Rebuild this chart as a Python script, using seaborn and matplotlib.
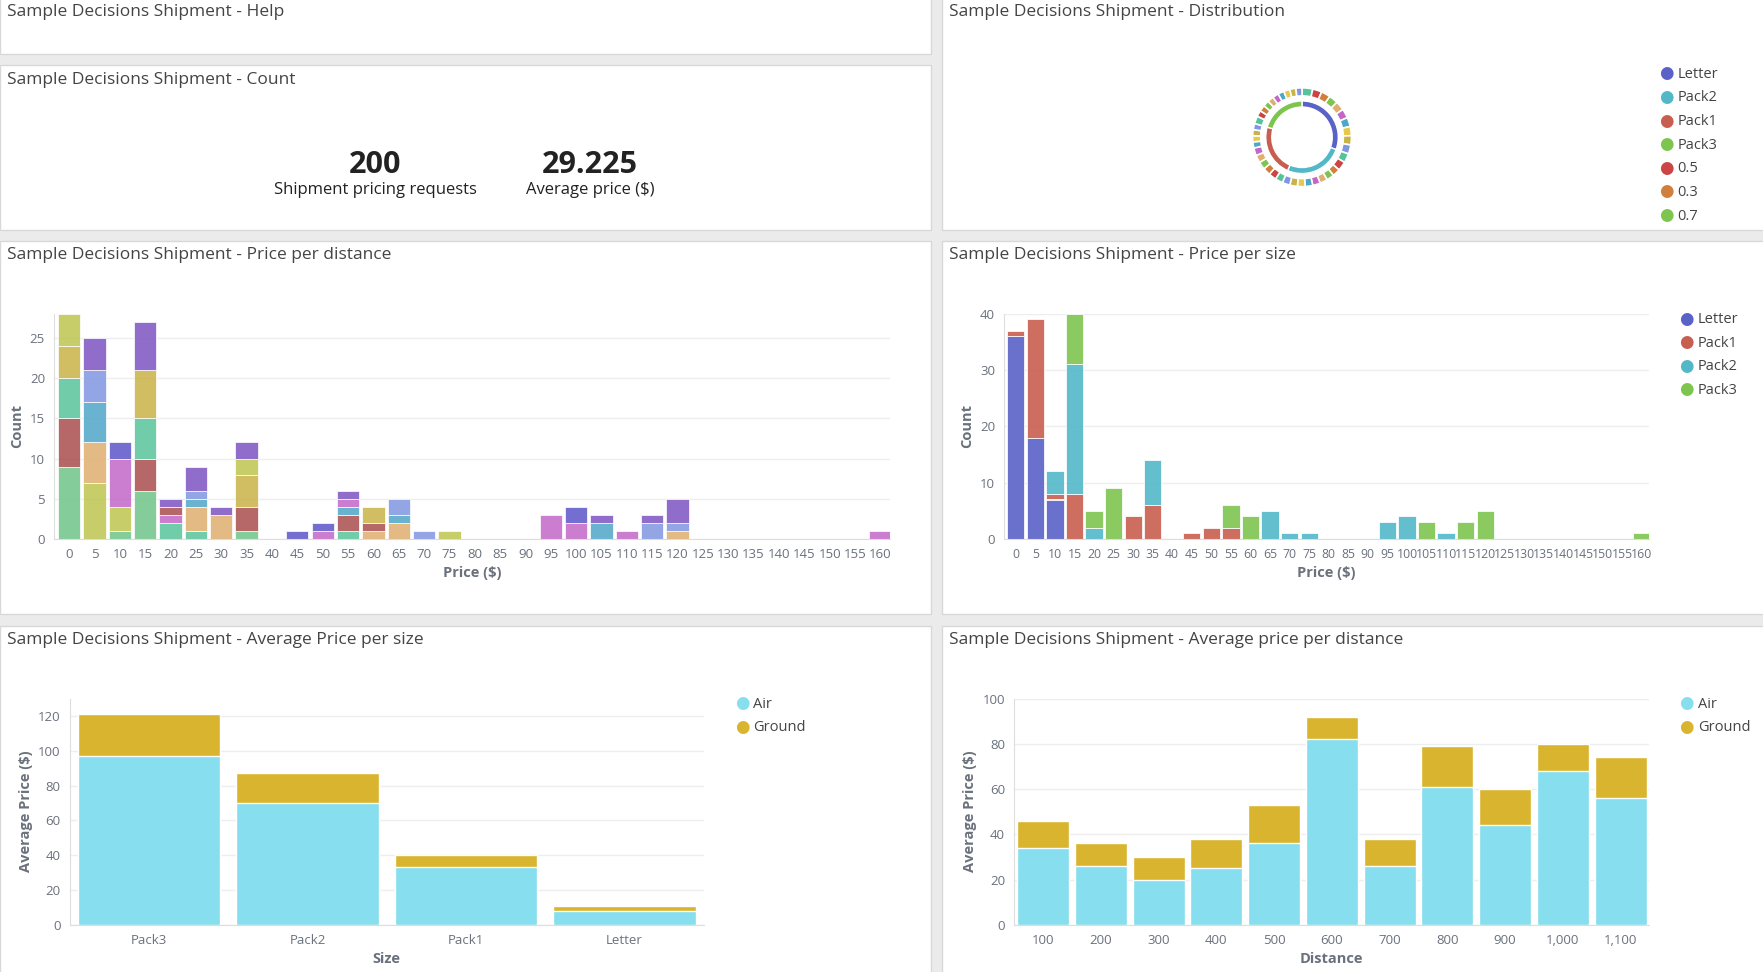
import numpy as np
import matplotlib.pyplot as plt
import seaborn as sns
import pandas as pd
from matplotlib.patches import Rectangle

sns.set_style('white')
plt.rcParams['font.family'] = ['Open Sans', 'DejaVu Sans']

# ---- data ----
price_bins = list(range(0, 165, 5))
dist_colors = {'100': '#70C48A', '200': '#AA4C4C', '300': '#57C39A', '400': '#C9B347',
               '500': '#BCC54F', '600': '#E0AE6E', '700': '#4FA6C9', '800': '#8096E0',
               '900': '#7E54C2', '1000': '#C266C8', '1100': '#5B55C8'}
# per price bin: list of (distance, count) stacked bottom-up
dist_stack = {
    0: [('100', 9), ('200', 6), ('300', 5), ('400', 4), ('500', 4)],
    5: [('500', 7), ('600', 5), ('700', 5), ('800', 4), ('900', 4)],
    10: [('100', 1), ('500', 3), ('1000', 6), ('1100', 2)],
    15: [('100', 6), ('200', 4), ('300', 5), ('400', 6), ('900', 6)],
    20: [('300', 2), ('1000', 1), ('200', 1), ('900', 1)],
    25: [('300', 1), ('600', 3), ('700', 1), ('800', 1), ('900', 3)],
    30: [('600', 3), ('900', 1)],
    35: [('100', 1), ('200', 3), ('400', 4), ('500', 2), ('900', 2)],
    45: [('1100', 1)],
    50: [('1000', 1), ('1100', 1)],
    55: [('300', 1), ('200', 2), ('700', 1), ('1000', 1), ('900', 1)],
    60: [('600', 1), ('200', 1), ('400', 2)],
    65: [('600', 2), ('700', 1), ('800', 2)],
    70: [('800', 1)],
    75: [('500', 1)],
    95: [('1000', 3)],
    100: [('1000', 2), ('1100', 2)],
    105: [('700', 2), ('900', 1)],
    110: [('1000', 1)],
    115: [('800', 2), ('900', 1)],
    120: [('600', 1), ('800', 1), ('900', 3)],
    160: [('1000', 1)],
}

sizes = ['Letter', 'Pack1', 'Pack2', 'Pack3']
size_colors = {'Letter': '#5A62C8', 'Pack1': '#C85E4F', 'Pack2': '#52B8C8', 'Pack3': '#7EC550'}
size_stack = {
    0: [('Letter', 36), ('Pack1', 1)],
    5: [('Letter', 18), ('Pack1', 21)],
    10: [('Letter', 7), ('Pack1', 1), ('Pack2', 4)],
    15: [('Pack1', 8), ('Pack2', 23), ('Pack3', 9)],
    20: [('Pack2', 2), ('Pack3', 3)],
    25: [('Pack3', 9)],
    30: [('Pack1', 4)],
    35: [('Pack1', 6), ('Pack2', 8)],
    45: [('Pack1', 1)],
    50: [('Pack1', 2)],
    55: [('Pack1', 2), ('Pack3', 4)],
    60: [('Pack3', 4)],
    65: [('Pack2', 5)],
    70: [('Pack2', 1)],
    75: [('Pack2', 1)],
    95: [('Pack2', 3)],
    100: [('Pack2', 4)],
    105: [('Pack3', 3)],
    110: [('Pack2', 1)],
    115: [('Pack3', 3)],
    120: [('Pack3', 5)],
    160: [('Pack3', 1)],
}

avg_size_cats = ['Pack3', 'Pack2', 'Pack1', 'Letter']
avg_size_air = [97, 70, 33, 8]
avg_size_ground = [24, 17, 7, 3]

avg_dist_cats = ['100', '200', '300', '400', '500', '600', '700', '800', '900', '1,000', '1,100']
avg_dist_air = [34, 26, 20, 25, 36, 82, 26, 61, 44, 68, 56]
avg_dist_ground = [12, 10, 10, 13, 17, 10, 12, 18, 16, 12, 18]

donut_inner = ['Letter', 'Pack2', 'Pack1', 'Pack3']
donut_inner_vals = [61, 52, 46, 41]
weight_colors = {'0.1': '#57C39A', '0.2': '#E0AE6E', '0.3': '#D0803C', '0.4': '#4FA6C9',
                 '0.5': '#CC4444', '0.6': '#C9B347', '0.7': '#7EC550', '0.8': '#8096E0',
                 '0.9': '#C266C8', '1.0': '#E8C84A'}
weight_cycle = ['0.1', '0.5', '0.3', '0.7', '0.2', '0.9', '0.4', '1.0', '0.6', '0.8']

AIR, GROUND = '#86DEEE', '#D9B42E'
TXT = '#6A717D'

W, H = 1568, 864
fig = plt.figure(figsize=(17.63, 9.72), dpi=100)
fig.patch.set_facecolor('#EBEBEB')


def fx(x): return x / W
def fy(y): return 1 - y / H


def panel(x0, y0, x1, y1, title):
    fig.add_artist(Rectangle((fx(x0), fy(y1)), fx(x1 - x0), (y1 - y0) / H,
                             transform=fig.transFigure, facecolor='white',
                             edgecolor='#D8D8D8', lw=1, zorder=0))
    fig.text(fx(x0 + 6), fy(y0 + 13), title, fontsize=12.5, color='#444444', va='center')


def axes(x0, y0, x1, y1):
    return fig.add_axes([fx(x0), fy(y1), fx(x1 - x0), (y1 - y0) / H])


def style(ax, xlabel, ylabel):
    ax.set_facecolor('white')
    ax.grid(axis='y', color='#EEEEEE', lw=1)
    ax.set_axisbelow(True)
    for s in ['top', 'right']:
        ax.spines[s].set_visible(False)
    for s in ['left', 'bottom']:
        ax.spines[s].set_color('#DDDDDD')
    ax.tick_params(colors=TXT, labelsize=9.5, length=3)
    ax.set_xlabel(xlabel, fontsize=10.5, color=TXT, fontweight='bold')
    ax.set_ylabel(ylabel, fontsize=10.5, color=TXT, fontweight='bold')


panel(0, -2, 828, 48, 'Sample Decisions Shipment - Help')
panel(0, 58, 828, 204, 'Sample Decisions Shipment - Count')
panel(838, -2, 1570, 204, 'Sample Decisions Shipment - Distribution')
panel(0, 214, 828, 546, 'Sample Decisions Shipment - Price per distance')
panel(838, 214, 1570, 546, 'Sample Decisions Shipment - Price per size')
panel(0, 556, 828, 866, 'Sample Decisions Shipment - Average Price per size')
panel(838, 556, 1570, 866, 'Sample Decisions Shipment - Average price per distance')

# count metrics
fig.text(fx(334), fy(147), '200', fontsize=22, fontweight='bold', color='#222222', ha='center', va='center')
fig.text(fx(334), fy(169), 'Shipment pricing requests', fontsize=12, color='#222222', ha='center', va='center')
fig.text(fx(525), fy(147), '29.225', fontsize=22, fontweight='bold', color='#222222', ha='center', va='center')
fig.text(fx(525), fy(169), 'Average price ($)', fontsize=12, color='#222222', ha='center', va='center')


def stacked_hist(ax, stacks, colors, alpha):
    for b, segs in stacks.items():
        bottom = 0
        for cat, v in segs:
            ax.bar(b, v, width=4.4, bottom=bottom, color=colors[cat], alpha=alpha,
                   edgecolor='white', lw=0.6)
            bottom += v
    ax.set_xlim(-3, 162)
    ax.set_xticks(price_bins)
    ax.set_xticklabels([str(b) for b in price_bins])


# price per distance
ax = axes(48, 279, 792, 479)
stacked_hist(ax, dist_stack, dist_colors, 0.85)
ax.set_ylim(0, 28)
ax.set_yticks([0, 5, 10, 15, 20, 25])
style(ax, 'Price ($)', 'Count')

# price per size
ax = axes(893, 279, 1467, 479)
stacked_hist(ax, size_stack, size_colors, 0.9)
ax.set_ylim(0, 40)
ax.set_yticks([0, 10, 20, 30, 40])
style(ax, 'Price ($)', 'Count')
ax.tick_params(axis='x', labelsize=8.8)
for i, s in enumerate(sizes):
    y = 284 + i * 21
    fig.text(fx(1500), fy(y), '\u25CF', color=size_colors[s], fontsize=12, ha='center', va='center')
    fig.text(fx(1510), fy(y), s, color='#444444', fontsize=10.5, va='center')


def avg_bars(ax, cats, air, ground, order):
    df = pd.DataFrame({'cat': cats, 'total': np.add(air, ground), 'air': air})
    sns.barplot(data=df, x='cat', y='total', order=order, color=GROUND, saturation=1, width=0.9, ax=ax)
    sns.barplot(data=df, x='cat', y='air', order=order, color=AIR, saturation=1, width=0.9, ax=ax)


def legend_ag(x, y):
    for i, (lab, c) in enumerate([('Air', AIR), ('Ground', GROUND)]):
        fig.text(fx(x), fy(y + i * 21), '\u25CF', color=c, fontsize=12, ha='center', va='center')
        fig.text(fx(x + 10), fy(y + i * 21), lab, color='#444444', fontsize=10.5, va='center')


ax = axes(62, 621, 626, 822)
avg_bars(ax, avg_size_cats, avg_size_air, avg_size_ground, avg_size_cats)
ax.set_ylim(0, 130)
ax.set_yticks([0, 20, 40, 60, 80, 100, 120])
ax.set_xlim(-0.5, 3.5)
style(ax, 'Size', 'Average Price ($)')
legend_ag(660, 626)

ax = axes(902, 621, 1467, 822)
avg_bars(ax, avg_dist_cats, avg_dist_air, avg_dist_ground, avg_dist_cats)
ax.set_ylim(0, 100)
ax.set_yticks([0, 20, 40, 60, 80, 100])
ax.set_xlim(-0.5, 10.5)
style(ax, 'Distance', 'Average Price ($)')
legend_ag(1500, 626)

# distribution donut
ax = axes(1098, 66, 1218, 178)
ax.set_aspect('equal')
ax.pie(donut_inner_vals, colors=[size_colors[s] for s in donut_inner], radius=0.72,
       startangle=90, counterclock=False, wedgeprops=dict(width=0.12, edgecolor='white', lw=1))
outer_vals, outer_cols = [], []
for s, v in zip(donut_inner, donut_inner_vals):
    parts = [v // 10 + (1 if i < v % 10 else 0) for i in range(10)]
    for i, p in enumerate(parts):
        outer_vals.append(p)
        outer_cols.append(weight_colors[weight_cycle[i]])
ax.pie(outer_vals, colors=outer_cols, radius=0.98, startangle=90, counterclock=False,
       wedgeprops=dict(width=0.16, edgecolor='white', lw=1.2))
ax.axis('off')
for i, (lab, c) in enumerate([('Letter', size_colors['Letter']), ('Pack2', size_colors['Pack2']),
                              ('Pack1', size_colors['Pack1']), ('Pack3', size_colors['Pack3']),
                              ('0.5', weight_colors['0.5']), ('0.3', weight_colors['0.3']),
                              ('0.7', weight_colors['0.7'])]):
    y = 66 + i * 21
    if y > 195:
        break
    fig.text(fx(1482), fy(y), '\u25CF', color=c, fontsize=12, ha='center', va='center')
    fig.text(fx(1492), fy(y), lab, color='#444444', fontsize=10.5, va='center')

fig.savefig('out.png', dpi=100)
